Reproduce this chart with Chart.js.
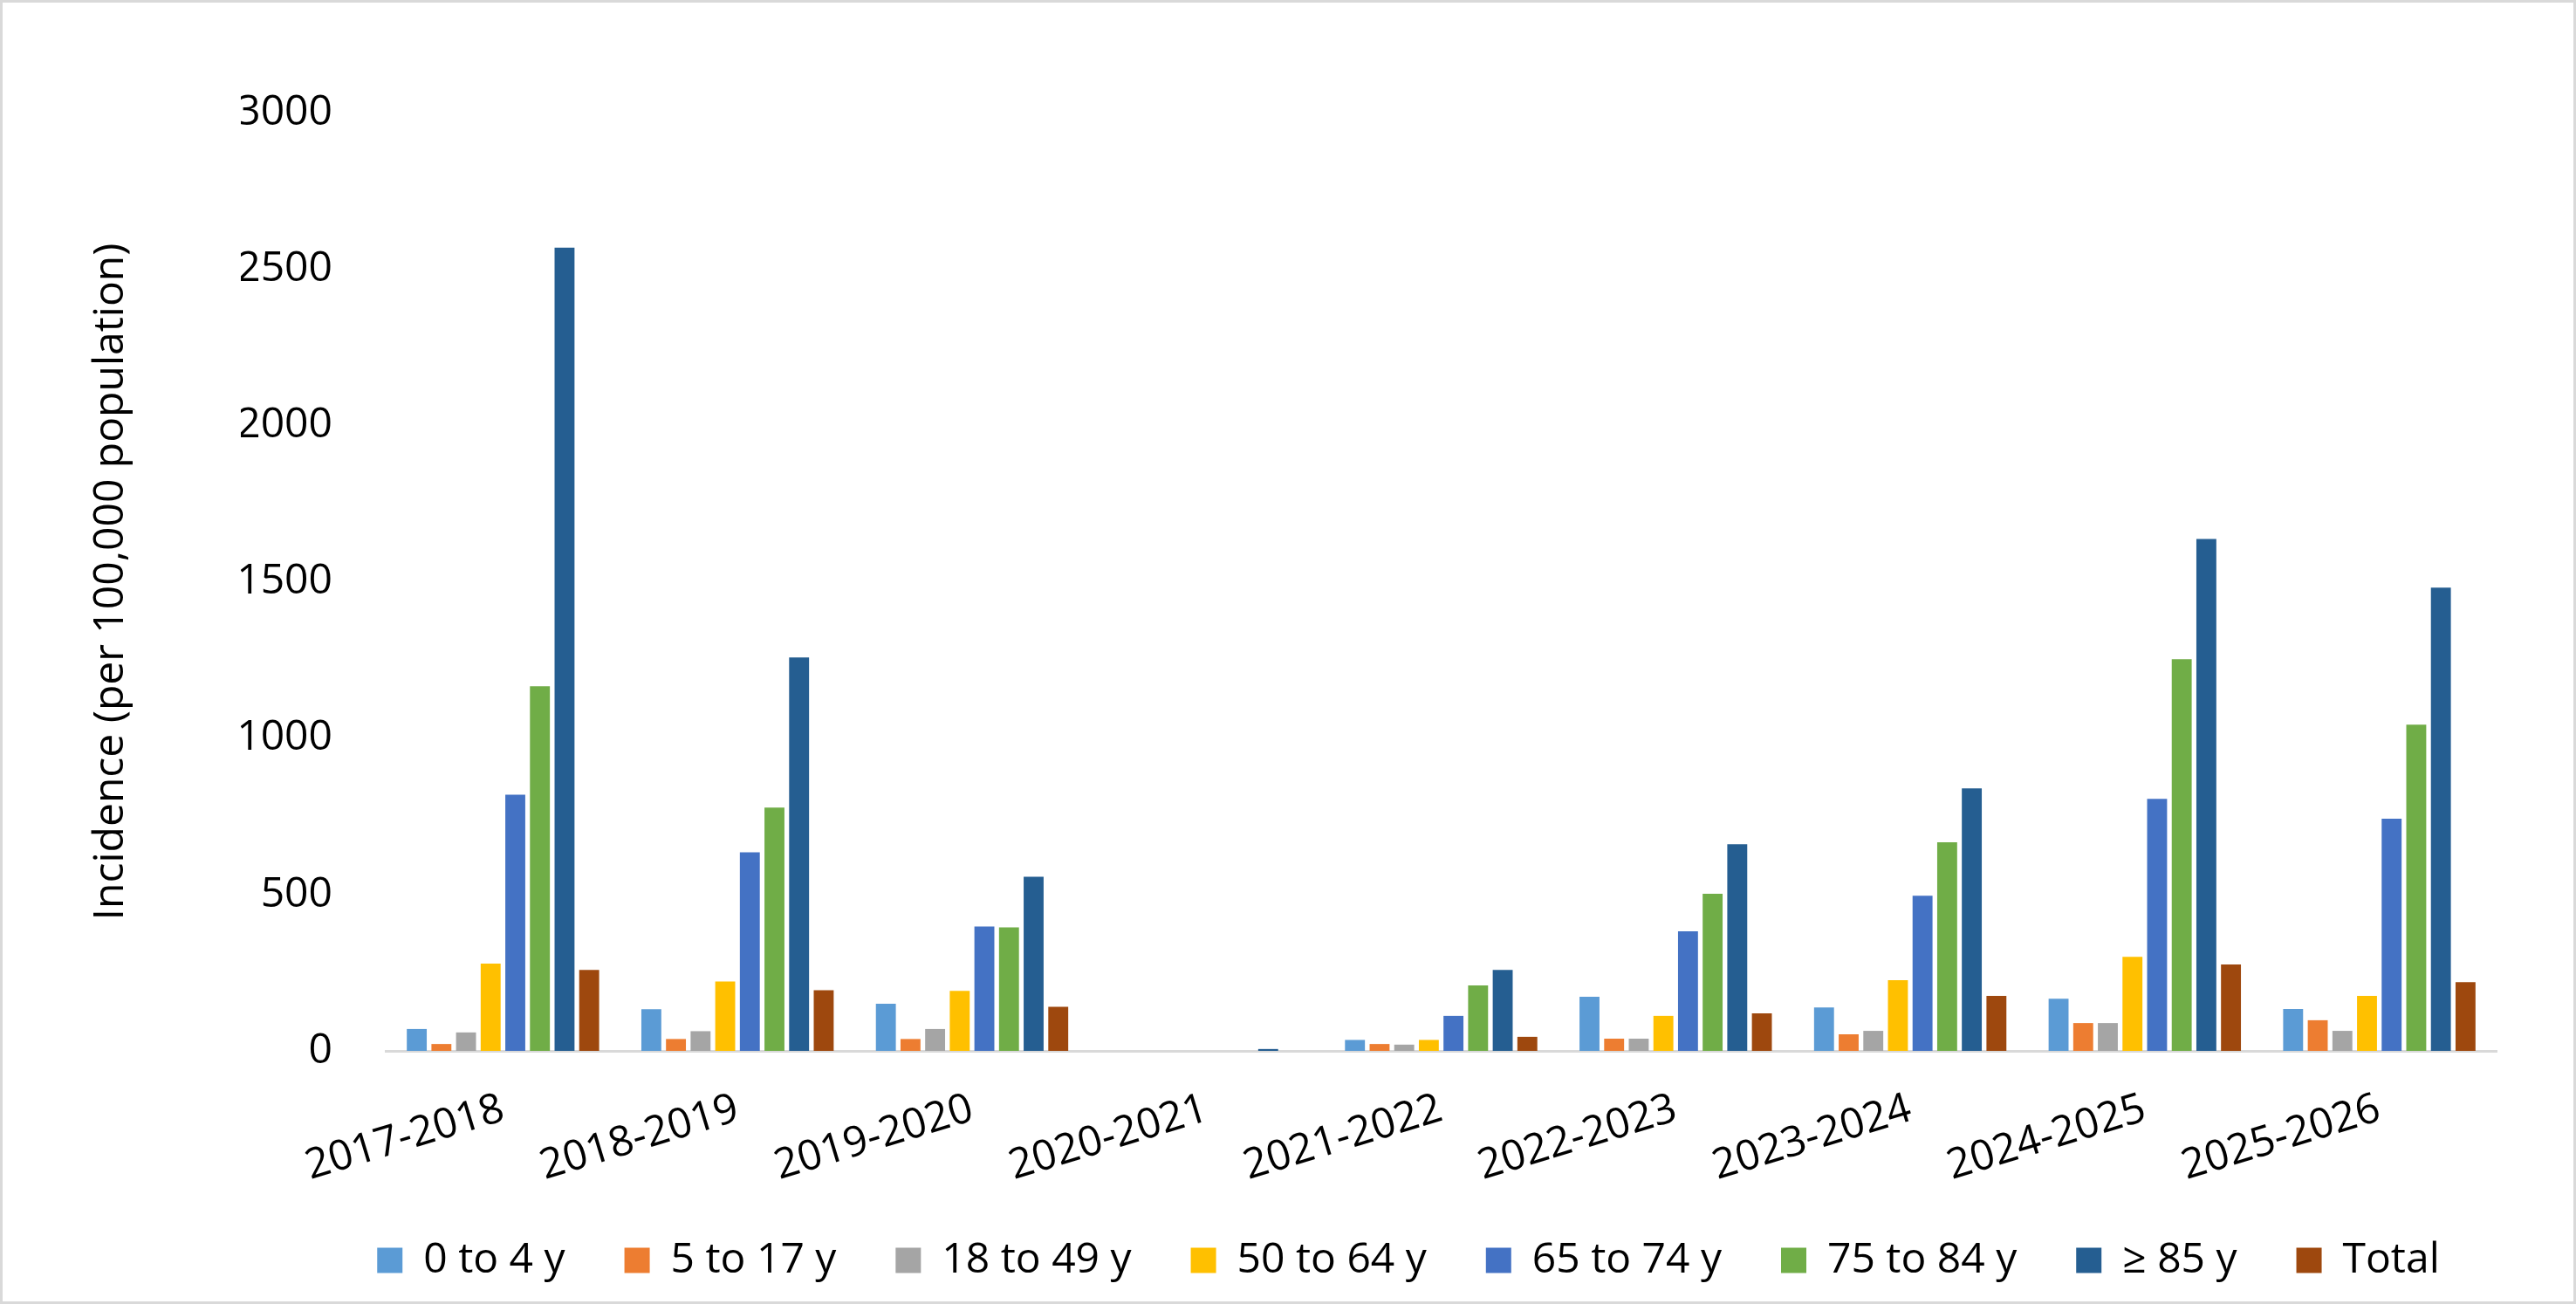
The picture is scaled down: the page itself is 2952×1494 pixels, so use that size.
<!DOCTYPE html>
<html>
<head>
<meta charset="utf-8">
<title>Incidence by age group</title>
<script src="https://cdn.jsdelivr.net/npm/chart.js@4.4.0/dist/chart.umd.min.js"></script>
<style>
    html, body { margin: 0; padding: 0; background: #fff; }
    #wrap { width: 2952px; height: 1494px; position: relative; }
</style>
</head>
<body>
<div id="wrap"><canvas id="incidenceChart"></canvas></div>
<script>
// Seasons on the x axis
const seasons = ['2017-2018', '2018-2019', '2019-2020', '2020-2021', '2021-2022',
                 '2022-2023', '2023-2024', '2024-2025', '2025-2026'];

// Incidence per 100,000 population
const age0to4   = [70, 133, 151, 0, 35, 173, 139, 167, 134];
const age5to17  = [22, 38, 38, 0, 22, 39, 53, 89, 98];
const age18to49 = [59, 63, 70, 0, 20, 39, 64, 89, 64];
const age50to64 = [279, 222, 192, 0, 35, 112, 226, 301, 176];
const age65to74 = [819, 635, 398, 0, 112, 382, 496, 806, 742];
const age75to84 = [1166, 778, 395, 0, 209, 502, 667, 1252, 1043];
const age85plus = [2568, 1258, 557, 6, 259, 661, 839, 1637, 1481];
const total     = [259, 194, 141, 0, 45, 120, 176, 276, 220];

const yTicks = [0, 500, 1000, 1500, 2000, 2500, 3000];

const FONT = 'Open Sans';

// white background + thin grey frame, like the exported chart
const framePlugin = {
    id: 'frame',
    beforeDraw(chart) {
        const { ctx, width, height } = chart;
        ctx.save();
        ctx.fillStyle = '#ffffff';
        ctx.fillRect(0, 0, width, height);
        ctx.strokeStyle = '#d9d9d9';
        ctx.lineWidth = 3;
        ctx.strokeRect(1.5, 1.5, width - 3, height - 3);
        ctx.restore();
    }
};

function makeSet(label, data, color) {
    return {
        label: label,
        data: data,
        backgroundColor: color,
        borderWidth: 0,
        categoryPercentage: 0.84,
        barPercentage: 0.81
    };
}

const ctx = document.getElementById('incidenceChart').getContext('2d');
new Chart(ctx, {
    type: 'bar',
    data: {
        labels: seasons,
        datasets: [
            makeSet('0 to 4 y', age0to4, '#5B9BD5'),
            makeSet('5 to 17 y', age5to17, '#ED7D31'),
            makeSet('18 to 49 y', age18to49, '#A5A5A5'),
            makeSet('50 to 64 y', age50to64, '#FFC000'),
            makeSet('65 to 74 y', age65to74, '#4472C4'),
            makeSet('75 to 84 y', age75to84, '#70AD47'),
            makeSet('\u2265 85 y', age85plus, '#255E91'),
            makeSet('Total', total, '#9E480E')
        ]
    },
    options: {
        responsive: true,
        maintainAspectRatio: false,
        animation: false,
        layout: {
            // left padding shifts the legend centre to where the original has it
            padding: { top: 129, right: 0, bottom: 16, left: 276 }
        },
        plugins: {
            legend: {
                position: 'bottom',
                labels: {
                    color: '#000',
                    font: { family: FONT, size: 48 },
                    boxWidth: 29,
                    boxHeight: 29,
                    padding: 68
                }
            },
            tooltip: { enabled: false }
        },
        scales: {
            x: {
                grid: { display: false },
                border: { display: true, color: '#d9d9d9', width: 3 },
                ticks: {
                    color: '#000',
                    font: { family: FONT, size: 48 },
                    minRotation: 17,
                    maxRotation: 17,
                    padding: 30
                },
                afterFit(scale) { scale.height = 148; }
            },
            y: {
                min: 0,
                max: 3000,
                grid: { display: false },
                border: { display: false },
                afterBuildTicks(scale) {
                    scale.ticks = yTicks.map(v => ({ value: v }));
                },
                ticks: {
                    color: '#000',
                    font: { family: FONT, size: 48 },
                    padding: 53,
                    callback: v => String(v)
                },
                title: {
                    display: true,
                    text: 'Incidence (per 100,000 population)',
                    color: '#000',
                    font: { family: FONT, size: 48 },
                    // pulled back left past the layout padding
                    padding: { top: -177, bottom: 0 }
                },
                afterFit(scale) { scale.width = 166; }
            },
            // empty right-hand axis, only keeps the gap right of the plot
            yRight: {
                position: 'right',
                display: true,
                grid: { display: false },
                border: { display: false },
                ticks: { display: false },
                afterFit(scale) { scale.width = 91; }
            }
        }
    },
    plugins: [framePlugin]
});
</script>
</body>
</html>
